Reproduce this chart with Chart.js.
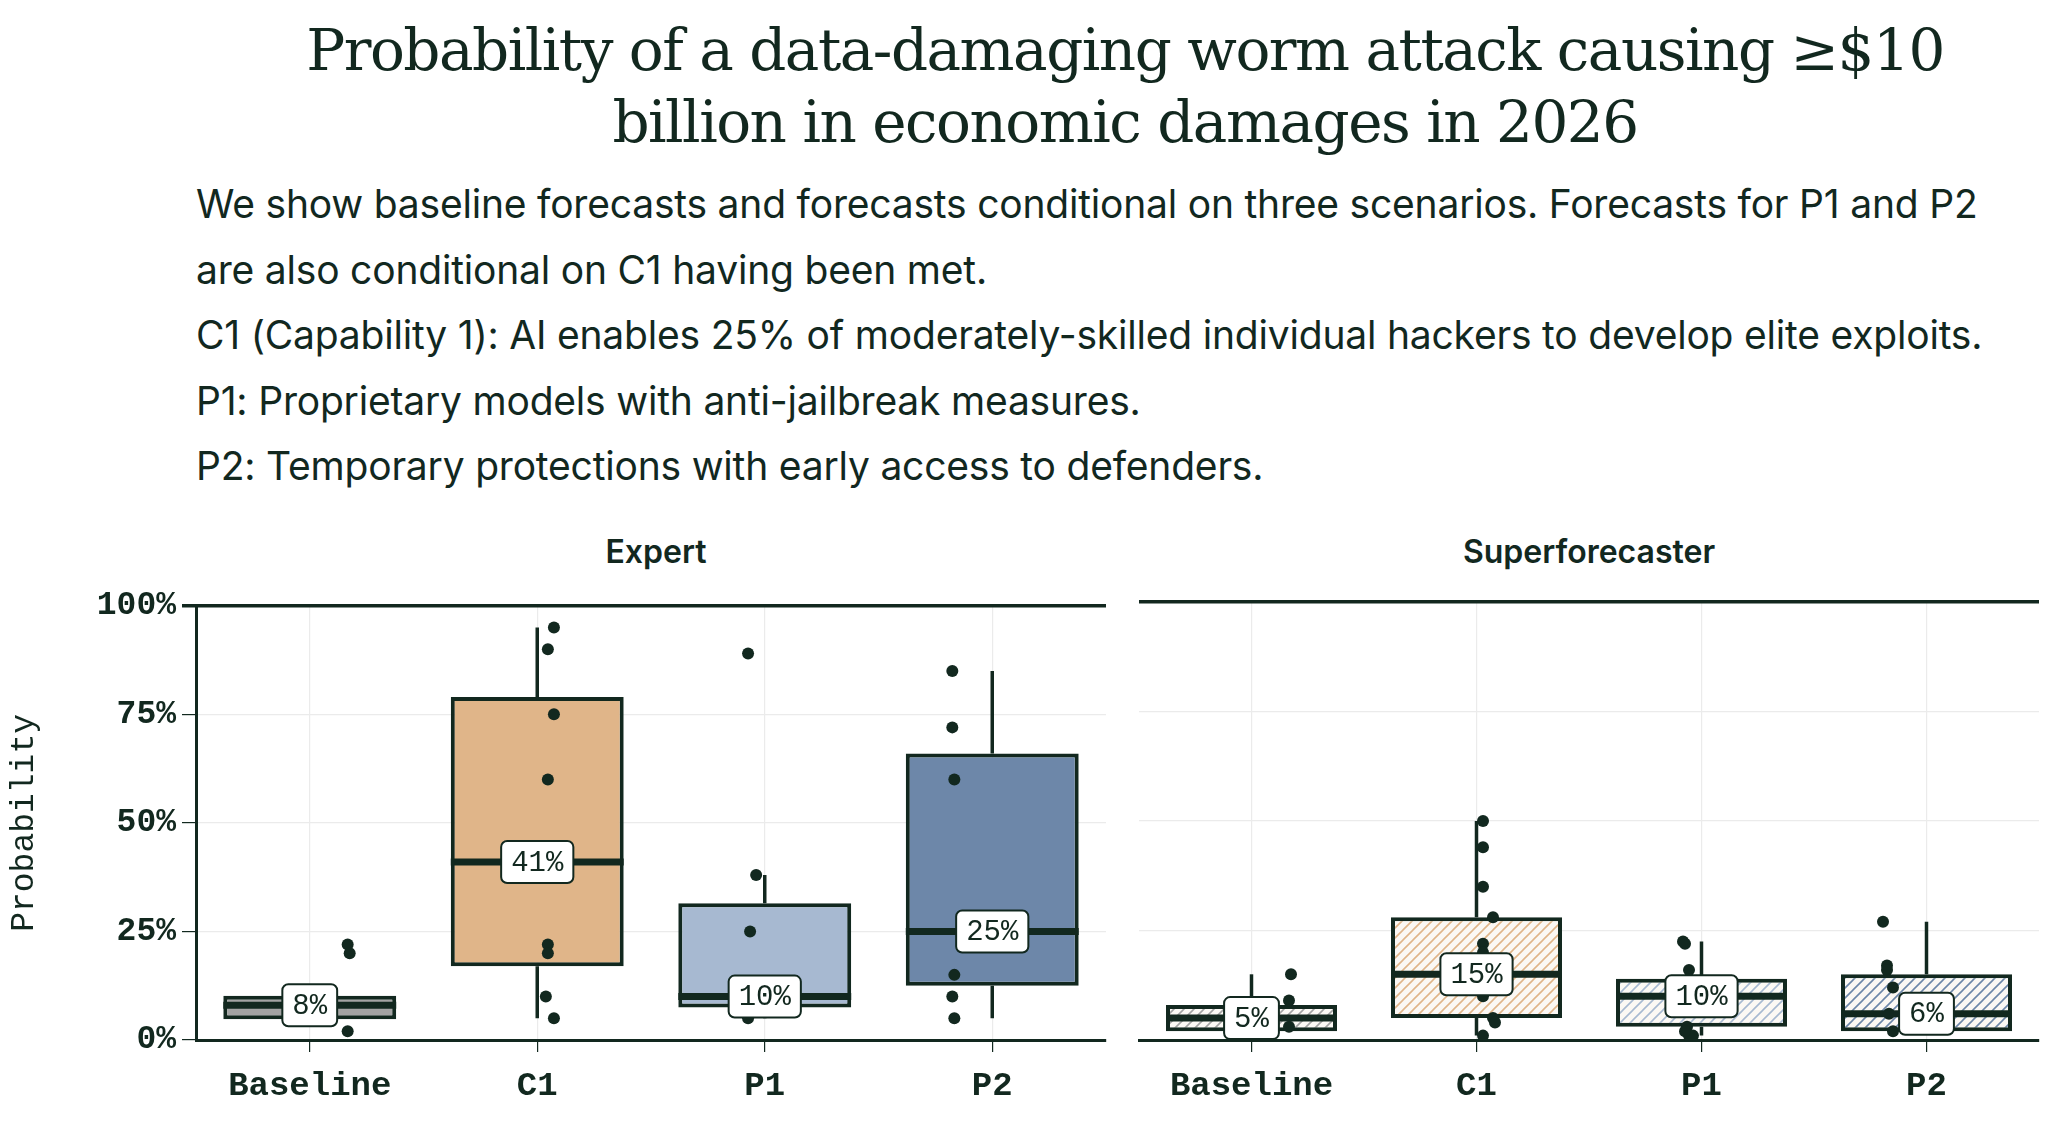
<!DOCTYPE html>
<html><head><meta charset="utf-8">
<script src="https://cdn.jsdelivr.net/npm/chart.js@4"></script>
<style>
body{margin:0;width:2070px;height:1140px;background:#fff;position:relative;overflow:hidden;color:#12281f}
h1{position:absolute;left:0;top:14px;width:2250px;margin:0;text-align:center;font:300 58px/72px "DejaVu Serif",serif;letter-spacing:-1.5px}
.sub{position:absolute;left:196px;top:171px;font:400 39px/65.5px Inter,sans-serif;letter-spacing:-0.2px}
.pt{position:absolute;top:532px;font:600 32px Inter,sans-serif;text-align:center;width:912px}
canvas{position:absolute}
</style></head><body>
<h1>Probability of a data-damaging worm attack causing ≥$10<br>billion in economic damages in 2026</h1>
<div class="sub">We show baseline forecasts and forecasts conditional on three scenarios. Forecasts for P1 and P2<br>are also conditional on C1 having been met.<br>C1 (Capability 1): AI enables 25% of moderately-skilled individual hackers to develop elite exploits.<br>P1: Proprietary models with anti-jailbreak measures.<br>P2: Temporary protections with early access to defenders.</div>
<div class="pt" style="left:200px">Expert</div>
<div class="pt" style="left:1133px">Superforecaster</div>
<div style="position:absolute;left:0;top:580px;width:1112px;height:560px"><canvas id="expert"></canvas></div>
<div style="position:absolute;left:1133px;top:580px;width:912px;height:560px"><canvas id="super"></canvas></div>
<script>
const categories = ['Baseline', 'C1', 'P1', 'P2'];
const colors = ['#a3a3a3', '#e0b589', '#a7b9d1', '#6d87a9'];
const dark = '#12281f';

// expert: [q1, q3], median, whisker low/high
const expertBox = [[4.8, 10.2], [17, 79], [7.5, 31.5], [12.5, 66]];
const expertMedian = [8, 41, 10, 25];
const expertWhisker = [[4.8, 10.2], [5, 95], [5, 38], [5, 85]];
const expertPoints = [[22, 20, 2], [95, 90, 75, 60, 22, 20, 10, 5], [89, 38, 25, 5], [85, 72, 60, 15, 10, 5]];
const expertJitter = [[0, 0.01, 0], [0.02, -0.01, 0.02, -0.01, -0.01, -0.01, -0.02, 0.02], [-0.02, 0.02, -0.01, -0.02], [-0.01, -0.01, 0, 0, -0.01, 0]];

const superBox = [[2, 8], [5, 28], [3, 14], [2, 15]];
const superMedian = [5, 15, 10, 6];
const superWhisker = [[2, 15], [1, 50], [1, 22.5], [2, 27]];
const superPoints = [[15, 9, 3], [50, 44, 35, 28, 22, 20, 10, 5, 4, 1], [22.5, 22, 16, 3, 1, 1, 2], [27, 17, 16, 12, 6, 2]];
const superJitter = [[0.01, 0, 0], [-0.03, -0.03, -0.03, 0.02, -0.03, -0.03, -0.03, 0.02, 0.03, -0.03], [-0.03, -0.02, 0, -0.01, 0, 0.02, -0.02], [-0.03, -0.01, -0.01, 0.02, 0, 0.02]];

const yTicks = [0, 25, 50, 75, 100];
const mono = '"Liberation Mono", "DejaVu Sans Mono", monospace';

function hatch(c) {
  const cv = document.createElement('canvas');
  cv.width = 10; cv.height = 10;
  const g = cv.getContext('2d');
  g.fillStyle = '#fbf8f4'; g.fillRect(0, 0, 10, 10);
  g.strokeStyle = c; g.lineWidth = 1.6;
  g.beginPath();
  g.moveTo(0, 10); g.lineTo(10, 0);
  g.moveTo(-5, 5); g.lineTo(5, -5);
  g.moveTo(5, 15); g.lineTo(15, 5);
  g.stroke();
  return g.createPattern(cv, 'repeat');
}

const boxPlugin = {
  id: 'boxes',
  beforeDatasetsDraw(chart) {
    const o = chart.config.options.plugins.boxes, x = chart.scales.x, y = chart.scales.y, c = chart.ctx;
    c.save(); c.strokeStyle = dark; c.lineWidth = 3.5;
    o.whisker.forEach((w, i) => {
      const px = x.getPixelForValue(i);
      c.beginPath();
      c.moveTo(px, y.getPixelForValue(w[1])); c.lineTo(px, y.getPixelForValue(o.box[i][1]));
      c.moveTo(px, y.getPixelForValue(w[0])); c.lineTo(px, y.getPixelForValue(o.box[i][0]));
      c.stroke();
    });
    c.restore();
  },
  afterDatasetsDraw(chart) {
    const o = chart.config.options.plugins.boxes, x = chart.scales.x, y = chart.scales.y, c = chart.ctx;
    const meta = chart.getDatasetMeta(0);
    c.save();
    o.median.forEach((m, i) => {
      const bar = meta.data[i], px = x.getPixelForValue(i), py = y.getPixelForValue(m);
      c.strokeStyle = dark; c.lineWidth = 7;
      c.beginPath(); c.moveTo(bar.x - bar.width / 2, py); c.lineTo(bar.x + bar.width / 2, py); c.stroke();
      const t = m + '%';
      c.font = '29px ' + mono;
      const w = c.measureText(t).width + 20, h = 42;
      c.beginPath(); c.roundRect(px - w / 2, py - h / 2, w, h, 6);
      c.fillStyle = '#fff'; c.fill(); c.lineWidth = 2; c.stroke();
      c.fillStyle = dark; c.textAlign = 'center'; c.textBaseline = 'middle';
      c.fillText(t, px, py + 1);
    });
    c.restore();
  }
};

function makeChart(id, box, median, whisker, points, jitter, fills, showY) {
  const pts = [];
  points.forEach((arr, i) => arr.forEach((v, k) => pts.push({x: i + jitter[i][k], y: v})));
  new Chart(document.getElementById(id), {
    type: 'bar',
    data: {
      labels: categories,
      datasets: [
        {data: box, backgroundColor: fills, borderColor: dark, borderWidth: 4, borderSkipped: false,
         grouped: false, barPercentage: 0.76, categoryPercentage: 1, order: 2},
        {type: 'scatter', data: pts, xAxisID: 'xp', pointRadius: 6, pointBackgroundColor: dark,
         pointBorderWidth: 0, order: 1}
      ]
    },
    plugins: [boxPlugin],
    options: {
      responsive: true, maintainAspectRatio: false, animation: false,
      layout: {padding: {top: 22, right: 0}},
      plugins: {legend: {display: false}, tooltip: {enabled: false},
        boxes: {box, median, whisker}},
      scales: {
        x: {grid: {offset: false, color: '#ebebeb', tickColor: dark, tickLength: 12, lineWidth: 1.2},
            border: {color: dark, width: 3},
            ticks: {color: dark, font: {family: mono, size: 34, weight: 'bold'}, padding: 14},
            afterFit(s) { s.height = 100; }},
        xp: {type: 'linear', min: -0.5, max: 3.5, display: false},
        y: {min: 0, max: 100,
            afterBuildTicks(s) { s.ticks = yTicks.map(v => ({value: v})); },
            grid: {color: c => c.tick.value === 100 ? dark : '#ebebeb',
                   lineWidth: c => c.tick.value === 100 ? 3.5 : 1.2,
                   tickColor: dark, tickLength: showY ? 14 : 0},
            border: {display: showY, color: dark, width: 3},
            ticks: {display: showY, color: dark, font: {family: mono, size: 33, weight: 'bold'}, padding: 6,
                    callback: v => v + '%'},
            title: {display: showY, text: 'Probability', color: dark, font: {family: mono, size: 33}, padding: 4},
            afterFit(s) { s.width = showY ? 196 : 0; }}
      }
    }
  });
}

makeChart('expert', expertBox, expertMedian, expertWhisker, expertPoints, expertJitter, colors, true);
makeChart('super', superBox, superMedian, superWhisker, superPoints, superJitter, colors.map(hatch), false);
</script>
</body></html>
